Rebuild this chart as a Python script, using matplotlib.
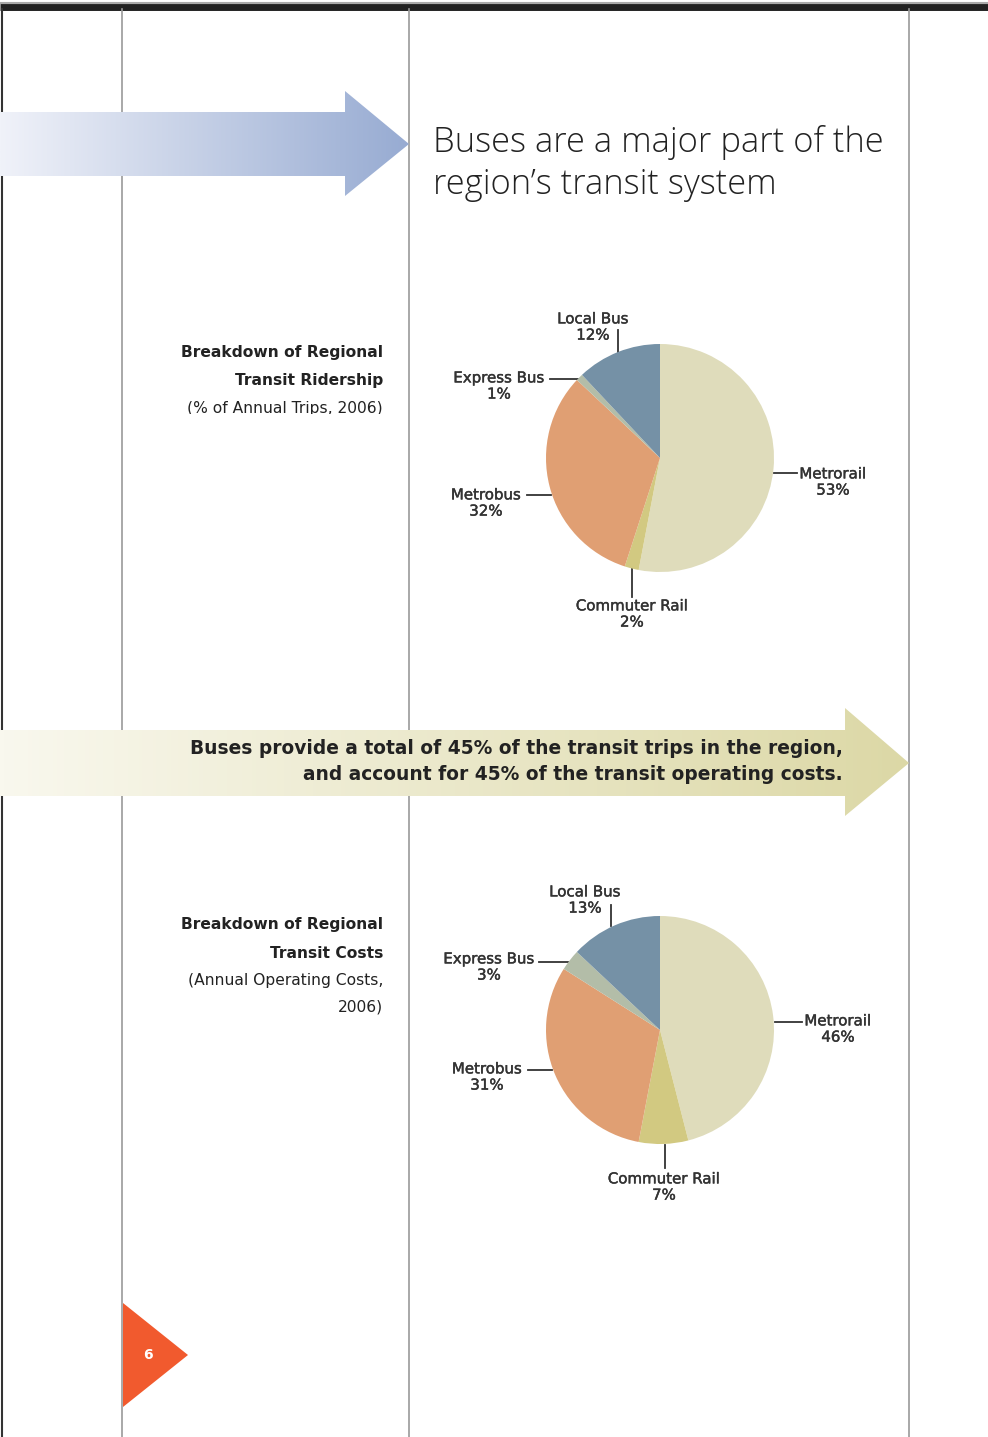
import matplotlib
matplotlib.use("Agg")
import matplotlib.pyplot as plt
import matplotlib.patheffects as pe
import numpy as np
from matplotlib.patches import Polygon, Rectangle
from matplotlib.colors import LinearSegmentedColormap

# data
modes = ['Metrorail', 'Commuter Rail', 'Metrobus', 'Express Bus', 'Local Bus']
ridership = [53, 2, 32, 1, 12]
costs = [46, 7, 31, 3, 13]
colors = ['#DFDCBB', '#D2C981', '#E09F73', '#B3BDA8', '#7591A6']

W, H = 988, 1437
fig = plt.figure(figsize=(W / 100, H / 100), dpi=100)
ax = fig.add_axes([0, 0, 1, 1])
ax.set_xlim(0, W)
ax.set_ylim(H, 0)
ax.axis('off')

# page frame
ax.plot([0, W], [7, 7], color='#222222', lw=5, solid_capstyle='butt')
ax.plot([0, W], [3, 3], color='#aaaaaa', lw=1.5)
ax.plot([2, 2], [9, H], color='#333333', lw=1.5)
for x in [122, 409, 909]:
    ax.plot([x, x], [9, H], color='#999999', lw=1.2)


def grad_arrow(x0, x1, xh, y0, y1, ytop, ybot, c0, c1):
    ym = (y0 + y1) / 2
    poly = Polygon([(x0, y0), (xh, y0), (xh, ytop), (x1, ym), (xh, ybot),
                    (xh, y1), (x0, y1)], closed=True, facecolor='none',
                   edgecolor='none')
    ax.add_patch(poly)
    cmap = LinearSegmentedColormap.from_list('g', [c0, c1])
    im = ax.imshow(np.linspace(0, 1, 256).reshape(1, -1), cmap=cmap,
                   extent=[x0, x1, ybot, ytop], aspect='auto', zorder=2)
    im.set_clip_path(poly)


grad_arrow(0, 409, 345, 112, 176, 91, 196, '#F0F2F9', '#97ABD2')
grad_arrow(0, 909, 845, 730, 796, 708, 816, '#F9F8EE', '#DCD8A6')
ax.set_xlim(0, W)
ax.set_ylim(H, 0)

ttl = dict(fontsize=24.8, family='Open Sans', weight='light', color='#222222',
           va='center', ha='left', zorder=3)
ax.text(433, 143, "Buses are a major part of the", **ttl)
ax.text(433, 185, "region’s transit system", **ttl)

mid = dict(fontsize=13.4, family='DejaVu Sans', weight='bold', color='#222222',
           ha='right', va='center', zorder=3)
ax.text(843, 749, "Buses provide a total of 45% of the transit trips in the region,", **mid)
ax.text(843, 774, "and account for 45% of the transit operating costs.", **mid)

# left captions
lab = dict(family='DejaVu Sans', fontsize=11.2, color='#222222', ha='right', va='center')
ax.text(383, 353, "Breakdown of Regional", weight='bold', **lab)
ax.text(383, 380, "Transit Ridership", weight='bold', **lab)
ax.text(383, 409, "(% of Annual Trips, 2006)", **lab)
# the last line is cut off in the original layout
ax.add_patch(Rectangle((170, 414), 230, 14, facecolor='white', edgecolor='none', zorder=4))
ax.text(383, 925, "Breakdown of Regional", weight='bold', **lab)
ax.text(383, 953, "Transit Costs", weight='bold', **lab)
ax.text(383, 980, "(Annual Operating Costs,", **lab)
ax.text(383, 1007, "2006)", **lab)

# page number
ax.add_patch(Polygon([(123, 1303), (123, 1407), (188, 1355)], closed=True,
                     facecolor='#F15A2E', edgecolor='none', zorder=3))
ax.text(148, 1355, "6", color='white', fontsize=10, weight='bold', family='DejaVu Sans',
        ha='center', va='center', zorder=4)


def draw_pie(cx, cy, r, vals):
    pax = fig.add_axes([(cx - r) / W, 1 - (cy + r) / H, 2 * r / W, 2 * r / H])
    pax.pie(vals, colors=colors, startangle=90, counterclock=False, radius=1,
            wedgeprops=dict(linewidth=0))
    pax.set_xlim(-1, 1)
    pax.set_ylim(-1, 1)
    pax.axis('off')


draw_pie(660, 458, 114, ridership)
draw_pie(660, 1030, 114, costs)

pl = dict(family='DejaVu Sans', fontsize=10.8, color='#333333',
          ha='center', va='center', linespacing=1.1,
          path_effects=[pe.withStroke(linewidth=0.3, foreground='#333333')])
lc = dict(color='#333333', lw=1.3)


def callouts(vals, spots):
    for m, v, (tx, ty, lx0, ly0, lx1, ly1) in zip(modes, vals, spots):
        ax.text(tx, ty, f"{m}\n{v}%", **pl)
        ax.plot([lx0, lx1], [ly0, ly1], **lc)


callouts(ridership, [
    (833, 482, 774, 473, 797, 473),
    (632, 614, 632, 568, 632, 597),
    (486, 503, 527, 495, 551, 495),
    (499, 386, 550, 379, 578, 379),
    (593, 327, 618, 330, 618, 352),
])
callouts(costs, [
    (838, 1029, 775, 1022, 802, 1022),
    (664, 1187, 665, 1145, 665, 1168),
    (487, 1077, 528, 1070, 552, 1070),
    (489, 967, 539, 962, 568, 962),
    (585, 900, 611, 905, 611, 926),
])

fig.savefig('out.png', dpi=100)
